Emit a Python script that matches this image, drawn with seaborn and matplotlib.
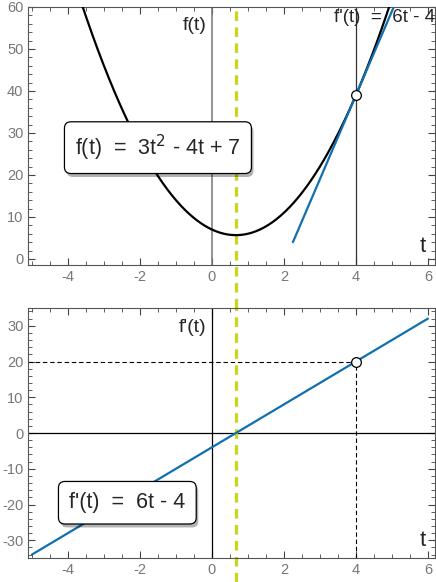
import numpy as np
import matplotlib
matplotlib.use("Agg")
import matplotlib.pyplot as plt
import matplotlib.patheffects as pe
from matplotlib.ticker import MultipleLocator
import seaborn as sns

# f(t) = 3t^2 - 4t + 7 and its derivative, as shown in the labels
f_coef = [3, -4, 7]
df_coef = [6, -4]
t0 = 4                      # tangent point
t_min_point = 2 / 3         # where f'(t) = 0
t_curve_range = [-3.8, 5.1]
t_tangent_range = [2.25, 5.05]
t_line_range = [-5, 6]

sns.set_style("ticks")
plt.rcParams["font.family"] = ["Liberation Sans", "DejaVu Sans"]
plt.rcParams["axes.unicode_minus"] = False

t_curve = np.linspace(t_curve_range[0], t_curve_range[1], 300)
f_curve = np.polyval(f_coef, t_curve)
f0 = np.polyval(f_coef, t0)
slope0 = np.polyval(df_coef, t0)
t_tan = np.array(t_tangent_range)
f_tan = f0 + slope0 * (t_tan - t0)
t_line = np.array(t_line_range)
df_line = np.polyval(df_coef, t_line)
df0 = np.polyval(df_coef, t0)

blue = "#0f6fb0"
yellow = "#c9d61a"

fig = plt.figure(figsize=(4.36, 5.82), dpi=100)
ax1 = fig.add_axes([0.065, 0.545, 0.933, 0.443])
ax2 = fig.add_axes([0.065, 0.041, 0.933, 0.430])

box = dict(boxstyle="round,pad=0.5,rounding_size=0.3", fc="white", ec="black", lw=0.9)
shadow = [pe.withSimplePatchShadow(offset=(1.5, -2.5), shadow_rgbFace="black", alpha=0.3)]

for ax in (ax1, ax2):
    ax.set_xlim(-5.1, 6.2)
    ax.xaxis.set_major_locator(MultipleLocator(2))
    ax.xaxis.set_minor_locator(MultipleLocator(0.5))
    ax.tick_params(which="both", direction="in", top=True, right=True,
                   colors="#444", labelcolor="#777", labelsize=10.5)
    ax.tick_params(which="major", length=5, width=0.8)
    ax.tick_params(which="minor", length=3, width=0.6)
    for s in ax.spines.values():
        s.set_color("#555")
        s.set_linewidth(0.8)
    ax.set_xlabel("")
    ax.set_ylabel("")

# top panel
ax1.set_ylim(-1.4, 60)
ax1.yaxis.set_major_locator(MultipleLocator(10))
ax1.yaxis.set_minor_locator(MultipleLocator(2))
ax1.axvline(0, color="#777", lw=1.1, zorder=1)
ax1.axvline(t0, color="#333", lw=0.9, zorder=1)
sns.lineplot(x=t_curve, y=f_curve, ax=ax1, color="black", lw=1.6, zorder=3)
sns.lineplot(x=t_tan, y=f_tan, ax=ax1, color=blue, lw=1.6, zorder=3)
ax1.plot([t0], [f0], "o", ms=7, mfc="white", mec="black", mew=0.9, zorder=6)
ax1.text(-0.15, 55.5, "f(t)", ha="right", va="center", fontsize=14)
ax1.text(6.2, 57.5, "f'(t)  =  6t - 4", ha="right", va="center", fontsize=13.5)
ax1.text(5.95, 3, "t", ha="right", va="center", fontsize=16)
t1 = ax1.text(-1.5, 26.5, "f(t)  =  3t$^2$ - 4t + 7", ha="center", va="center",
              fontsize=15.5, bbox=box, zorder=7)
t1.get_bbox_patch().set_path_effects(shadow)

# bottom panel
ax2.set_ylim(-35, 35)
ax2.yaxis.set_major_locator(MultipleLocator(10))
ax2.yaxis.set_minor_locator(MultipleLocator(2))
ax2.axvline(0, color="black", lw=0.9, zorder=1)
ax2.axhline(0, color="black", lw=0.9, zorder=1)
ax2.plot([-5.1, t0], [df0, df0], color="black", lw=0.8, ls=(0, (4, 2.5)), zorder=1)
ax2.plot([t0, t0], [-35, df0], color="black", lw=0.8, ls=(0, (4, 2.5)), zorder=1)
sns.lineplot(x=t_line, y=df_line, ax=ax2, color=blue, lw=1.6, zorder=3)
ax2.plot([t0], [df0], "o", ms=7, mfc="white", mec="black", mew=0.9, zorder=6)
ax2.text(-0.15, 29.5, "f'(t)", ha="right", va="center", fontsize=14)
ax2.text(5.95, -30, "t", ha="right", va="center", fontsize=16)
t2 = ax2.text(-2.35, -19.5, "f'(t)  =  6t - 4", ha="center", va="center",
              fontsize=15.5, bbox=box, zorder=7)
t2.get_bbox_patch().set_path_effects(shadow)

# yellow dashed line at the minimum, running through both panels
gap = (0.545 - 0.471) / 0.443
ax1.axvline(t_min_point, ymin=-gap, ymax=1, color=yellow, lw=2.3,
            ls=(0, (3, 2)), clip_on=False, zorder=2.5)
ax2.axvline(t_min_point, ymin=-0.041 / 0.430, ymax=1, color=yellow, lw=2.3,
            ls=(0, (3, 2)), clip_on=False, zorder=2.5)

fig.savefig("out.png", dpi=100)
